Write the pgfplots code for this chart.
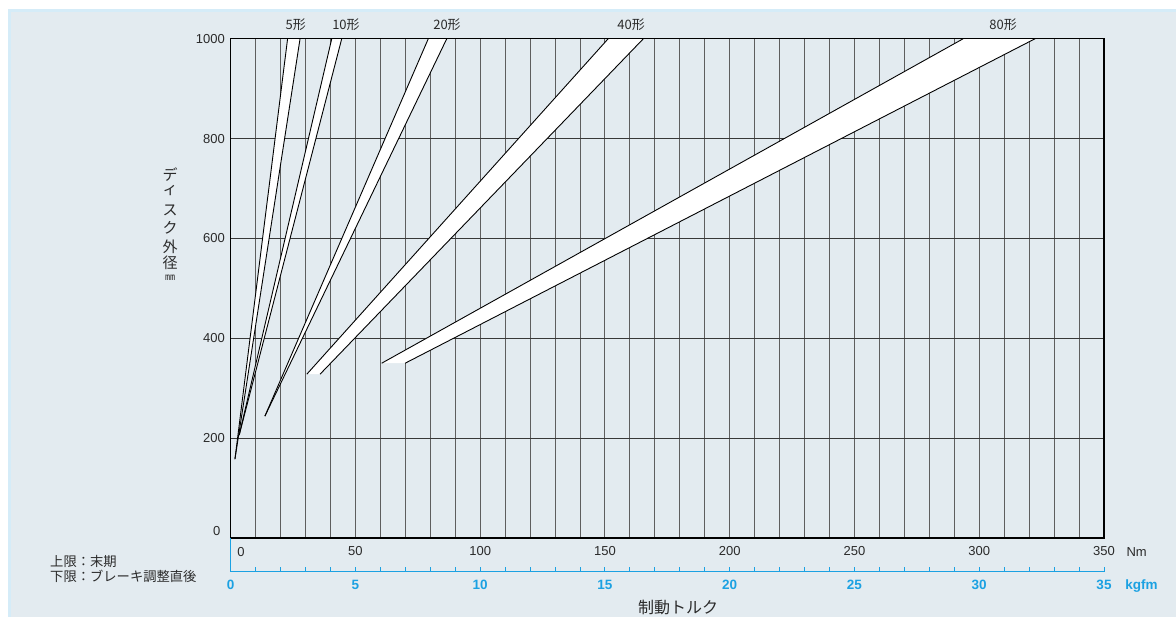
\documentclass[border=0pt]{standalone}
\usepackage{pgfplots}
\pgfplotsset{compat=1.18}
\usepackage{fontspec}
\setmainfont{Liberation Sans}
\newfontfamily\cjk{Noto Sans CJK JP}
\definecolor{bg}{HTML}{E3EBF0}
\definecolor{bgedge}{HTML}{D5ECF8}
\definecolor{kblue}{HTML}{1BA1E2}
\definecolor{gridv}{HTML}{5E5E5E}
\definecolor{gridh}{HTML}{383838}
\definecolor{txt}{HTML}{2A2A2A}
\begin{document}
\begin{tikzpicture}[x=1pt,y=1pt]
\useasboundingbox (0,0) rectangle (1176,617);
\fill[white] (0,0) rectangle (1176,617);
\fill[bgedge] (8,0) rectangle (1176,608);
\fill[bg] (11,0) rectangle (1176,605);

\begin{axis}[
  at={(230.7pt,79pt)}, anchor=south west, scale only axis,
  width=873.3pt, height=499.3pt,
  xmin=0, xmax=350, ymin=0, ymax=1000,
  xtick={0,50,...,350}, xticklabels={,50,100,150,200,250,300,350},
  minor xtick={10,20,...,340},
  ytick={0,200,...,1000}, yticklabels={,200,400,600,800,1000},
  major tick length=0pt, minor tick length=0pt,
  xmajorgrids, xminorgrids, ymajorgrids,
  major grid style={gridv, line width=1pt},
  minor grid style={gridv, line width=1pt},
  y grid style={gridh, line width=1.1pt},
  axis line style={black, line width=1.2pt},
  tick label style={font=\fontsize{13}{15}\selectfont, text=txt},
  xticklabel style={yshift=-5pt},
  yticklabel style={xshift=-2.4pt},
  clip=false,
]
% bands (white fill)
\addplot[fill=white, draw=none] coordinates {(1.7,158) (22.8,1000) (27.8,1000) (1.7,158)};
\addplot[fill=white, draw=none] coordinates {(3.4,206) (40.5,1000) (44.5,1000) (3.4,206)};
\addplot[fill=white, draw=none] coordinates {(13.7,244) (79.2,1000) (86.6,1000) (13.7,244)};
\addplot[fill=white, draw=none] coordinates {(30.5,328) (151.3,1000) (165.4,1000) (35.8,328) (30.5,328)};
\addplot[fill=white, draw=none] coordinates {(60.5,350) (293.6,1000) (322.4,1000) (69.9,350) (60.5,350)};
% band lines
\addplot[black, line width=0.9pt] coordinates {(1.7,158) (22.8,1000)};
\addplot[black, line width=0.9pt] coordinates {(1.7,158) (27.8,1000)};
\addplot[black, line width=0.9pt] coordinates {(3.4,206) (40.5,1000)};
\addplot[black, line width=0.9pt] coordinates {(3.4,206) (44.5,1000)};
\addplot[black, line width=0.9pt] coordinates {(13.7,244) (79.2,1000)};
\addplot[black, line width=0.9pt] coordinates {(13.7,244) (86.6,1000)};
\addplot[black, line width=0.9pt] coordinates {(30.5,328) (151.3,1000)};
\addplot[black, line width=0.9pt] coordinates {(35.8,328) (165.4,1000)};
\addplot[black, line width=0.9pt] coordinates {(60.5,350) (293.6,1000)};
\addplot[black, line width=0.9pt] coordinates {(69.9,350) (322.4,1000)};
\draw[black, line width=1.2pt] (rel axis cs:0,1) -- (rel axis cs:1,1);
% band labels
\node[font=\cjk\fontsize{13}{15}\selectfont, text=txt] at (axis cs:26.1,1000) [yshift=13.7pt] {5形};
\node[font=\cjk\fontsize{13}{15}\selectfont, text=txt] at (axis cs:46.2,1000) [yshift=13.7pt] {10形};
\node[font=\cjk\fontsize{13}{15}\selectfont, text=txt] at (axis cs:86.7,1000) [yshift=13.7pt] {20形};
\node[font=\cjk\fontsize{13}{15}\selectfont, text=txt] at (axis cs:160.5,1000) [yshift=13.7pt] {40形};
\node[font=\cjk\fontsize{13}{15}\selectfont, text=txt] at (axis cs:309.6,1000) [yshift=13.7pt] {80形};
% shifted zero labels and unit
\node[font=\fontsize{13}{15}\selectfont, text=txt] at (axis cs:4.1,-28) {0};
\node[font=\fontsize{13}{15}\selectfont, text=txt, anchor=east] at (axis cs:-2.7,14) {0};
\node[font=\fontsize{13}{15}\selectfont, text=txt] at (axis cs:363.1,-28) {Nm};
\end{axis}

\begin{axis}[
  at={(230.7pt,45.3pt)}, anchor=south west, scale only axis,
  width=873.3pt, height=33.7pt,
  xmin=0, xmax=35, ymin=0, ymax=1,
  axis x line*=bottom, axis y line*=left,
  ytick=\empty,
  xtick={0,5,...,35}, xticklabels={0,5,10,15,20,25,30,35},
  minor xtick={1,2,...,34},
  tick align=inside, major tick length=5pt, minor tick length=5pt,
  axis line style={kblue, line width=1.2pt, -},
  tick style={kblue, line width=1pt},
  xticklabel style={font=\bfseries\fontsize{13.5}{15}\selectfont, text=kblue, yshift=-5pt},
  clip=false,
]
\node[font=\bfseries\fontsize{13.5}{15}\selectfont, text=kblue] at (axis cs:36.5,-0.42) {kgfm};
\end{axis}

% axis title and y label
\node[font=\cjk\fontsize{16}{18}\selectfont, text=txt] at (678,10) {制動トルク};
\begin{scope}[every node/.style={font=\cjk\fontsize{15}{16}\selectfont, text=txt}]
\node at (170,442) {デ};
\node at (170,427) {ィ};
\node at (170,407) {ス};
\node at (170,389) {ク};
\node at (170,370.3) {外};
\node at (170,354) {径};
\end{scope}
\node[font=\cjk\fontsize{10}{12}\selectfont, text=txt] at (170,339) {㎜};
% note
\node[font=\cjk\fontsize{13.3}{15}\selectfont, text=txt, anchor=west, inner sep=0pt] at (50,55.3) {上限：末期};
\node[font=\cjk\fontsize{13.3}{15}\selectfont, text=txt, anchor=west, inner sep=0pt] at (50,40.3) {下限：ブレーキ調整直後};
\end{tikzpicture}
\end{document}
